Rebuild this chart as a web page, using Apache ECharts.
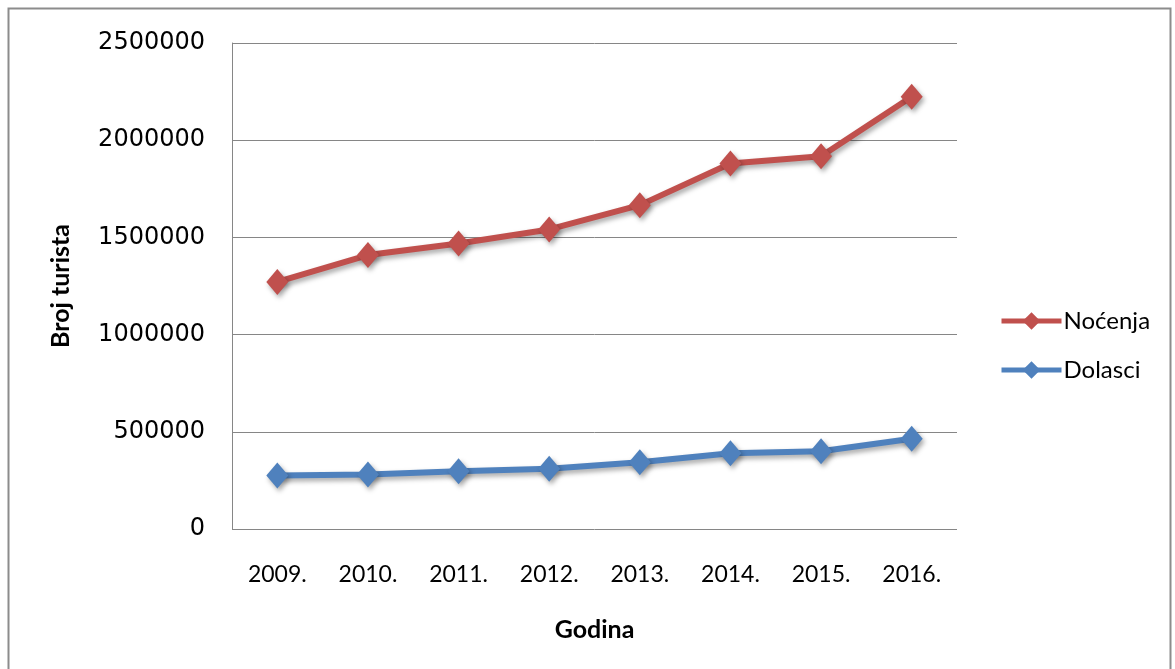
<!DOCTYPE html>
<html><head><meta charset="utf-8">
<script src="https://cdn.jsdelivr.net/npm/echarts@6/dist/echarts.min.js"></script>
<style>html,body{margin:0;padding:0;background:#fff;}#c{width:1175px;height:669px;}</style>
</head><body><div id="c"></div>
<script>
const years = ['2009.','2010.','2011.','2012.','2013.','2014.','2015.','2016.'];
const nocenja = [1271000, 1409000, 1469000, 1541000, 1666000, 1880000, 1918000, 2223000];
const dolasci = [275000, 280000, 297000, 310000, 343000, 390000, 400000, 464000];
const yTicks = [0, 500000, 1000000, 1500000, 2000000, 2500000];

const chart = echarts.init(document.getElementById('c'));
const shadow = {shadowBlur: 5, shadowOffsetX: 2, shadowOffsetY: 3, shadowColor: 'rgba(0,0,0,0.35)'};
chart.setOption({
  animation: false,
  backgroundColor: '#fff',
  graphic: [{type: 'rect', shape: {x: 8.5, y: 8.5, width: 1162, height: 680}, style: {fill: 'none', stroke: '#8c8c8c', lineWidth: 2}}],
  grid: {left: 232, right: 218, top: 43, bottom: 140},
  legend: {
    orient: 'vertical', left: 994, top: 304, itemGap: 25, itemWidth: 60, itemHeight: 22,
    lineStyle: {width: 5},
    textStyle: {fontFamily: 'Lato', fontSize: 24, color: '#000', padding: [0,0,0,-3]},
    data: ['Noćenja', 'Dolasci']
  },
  xAxis: {
    type: 'category', data: years, boundaryGap: true,
    name: 'Godina', nameLocation: 'middle', nameGap: 88,
    nameTextStyle: {fontFamily: 'Lato', fontWeight: 'bold', fontSize: 25, color: '#000'},
    axisLine: {show: false}, axisTick: {show: false},
    axisLabel: {fontFamily: 'Lato', fontSize: 23, color: '#000', margin: 34}
  },
  yAxis: {
    type: 'value', min: yTicks[0], max: yTicks[yTicks.length-1], interval: 500000,
    name: 'Broj turista', nameLocation: 'middle', nameGap: 159, nameRotate: 90,
    nameTextStyle: {fontFamily: 'Lato', fontWeight: 'bold', fontSize: 25, color: '#000'},
    axisLine: {show: true, lineStyle: {color: '#868686', width: 1}},
    axisTick: {show: false},
    axisLabel: {fontFamily: 'DejaVu Sans', fontSize: 24, color: '#000', margin: 27,
      formatter: v => String(v)},
    splitLine: {lineStyle: {color: '#868686', width: 1}}
  },
  series: [
    {name: 'Noćenja', type: 'line', data: nocenja, color: '#C0504D',
     symbol: 'diamond', symbolSize: [22, 26],
     lineStyle: Object.assign({width: 6, color: '#C0504D'}, shadow),
     itemStyle: Object.assign({color: '#C0504D'}, shadow)},
    {name: 'Dolasci', type: 'line', data: dolasci, color: '#4F81BD',
     symbol: 'diamond', symbolSize: [22, 26],
     lineStyle: Object.assign({width: 6, color: '#4F81BD'}, shadow),
     itemStyle: Object.assign({color: '#4F81BD'}, shadow)}
  ]
});
</script></body></html>
